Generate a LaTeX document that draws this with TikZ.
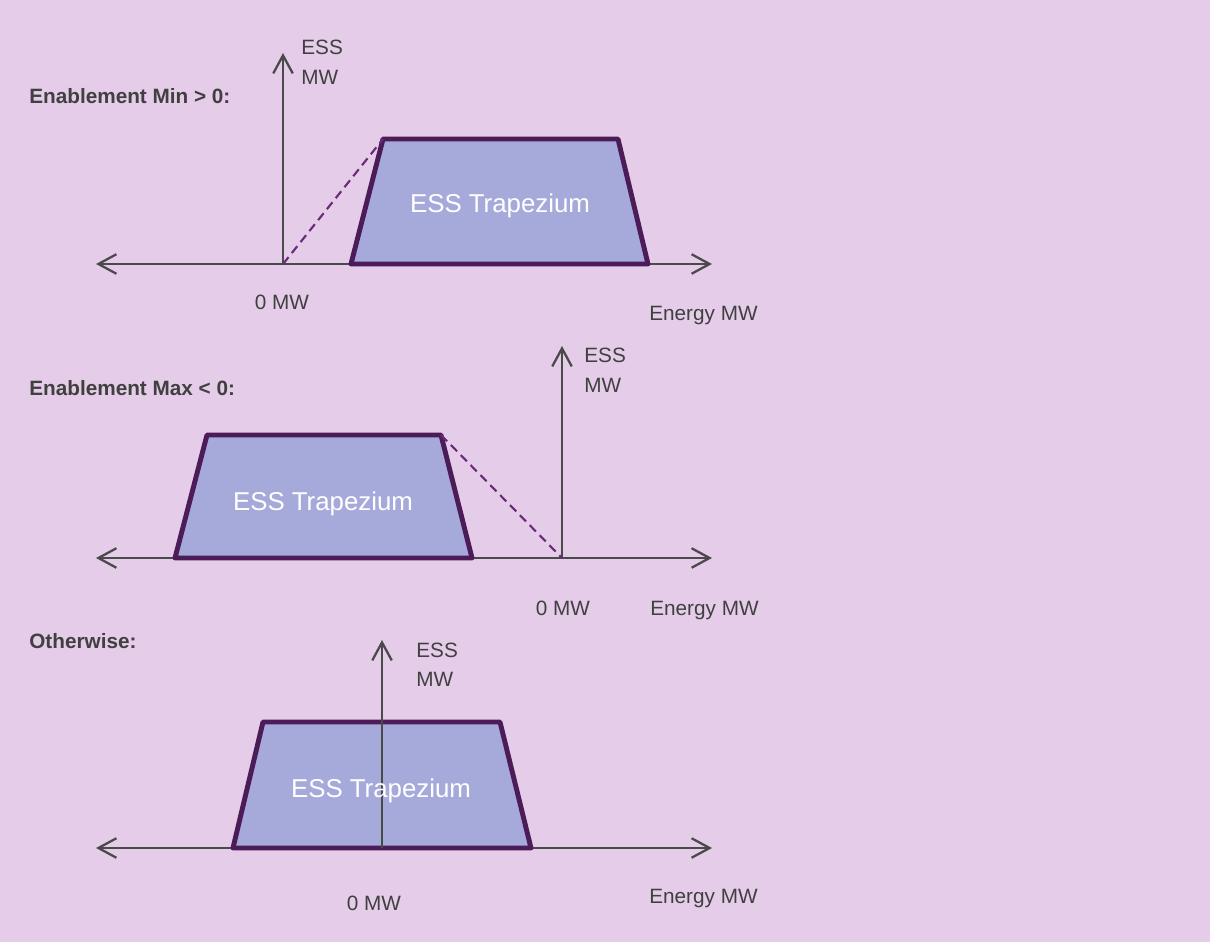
\documentclass[tikz,border=0pt]{standalone}
\usepackage{fontspec}
\setmainfont{Liberation Sans}
\usepackage{tikz}
\usetikzlibrary{arrows.meta,positioning}

\definecolor{bgcol}{HTML}{E5CCE8}
\definecolor{trapfill}{HTML}{A6AADB}
\definecolor{trapline}{HTML}{4B1C57}
\definecolor{hintcol}{HTML}{6A2A7A}
\definecolor{axisgray}{HTML}{4A4A4A}
\definecolor{txtgray}{HTML}{404040}

\begin{document}
\begin{tikzpicture}[x=0.02cm, y=-0.02cm,
  head/.tip={Straight Barb[length=3.6mm,width=3.9mm]},
  axis/.style={draw=axisgray, line width=1.3pt, {head}-{head}},
  upaxis/.style={draw=axisgray, line width=1.3pt, -{head}},
  trap/.style={fill=trapfill, draw=trapline, line width=2.8pt, line join=round},
  hint/.style={draw=hintcol, line width=1.2pt, dash pattern=on 5pt off 3pt},
  lbl/.style={text=txtgray, font=\fontsize{11.8}{14}\selectfont, anchor=base west, inner sep=0pt},
  title/.style={lbl, font=\fontsize{11.8}{14}\selectfont\bfseries},
  inlbl/.style={text=white, font=\fontsize{14.7}{17}\selectfont, anchor=base, inner sep=0pt}]

% Background and margins
\fill[bgcol] (0,0) rectangle (1210,942);
\useasboundingbox (0,0) rectangle (1210,942);

% ---------- Enablement Min > 0 ----------
\coordinate (oA) at (283,264);
\coordinate (lA) at (96,264);
\coordinate (rA) at (712,264);
\coordinate (tA) at (283,53);
\draw[axis] (lA) -- (rA);
\draw[trap] (351,264) -- (383,139) coordinate (cA) -- (618,139) -- (648,264) -- cycle;
\draw[upaxis] (oA) -- (tA);
\draw[hint] (oA) -- (cA);
\node[inlbl] (trapA) at (500,213) {ESS Trapezium};
\node[title] (headA) at (29,104) {Enablement Min > 0:};
\node[lbl] (essA) at (301,55) {ESS};
\node[lbl] (mwA) at (301,85) {MW};
\node[lbl, anchor=base] (zeroA) at (282,310) {0 MW};
\node[lbl] (enA) at (649,321) {Energy MW};

% ---------- Enablement Max < 0 ----------
\coordinate (oB) at (562,558);
\coordinate (lB) at (96,558);
\coordinate (rB) at (712,558);
\coordinate (tB) at (562,346);
\draw[axis] (lB) -- (rB);
\draw[trap] (175,558) -- (207,435) -- (441,435) coordinate (cB) -- (472,558) -- cycle;
\draw[upaxis] (oB) -- (tB);
\draw[hint] (cB) -- (oB);
\node[inlbl] (trapB) at (323,510) {ESS Trapezium};
\node[title] (headB) at (29,396) {Enablement Max < 0:};
\node[lbl] (essB) at (584,363) {ESS};
\node[lbl] (mwB) at (584,393) {MW};
\node[lbl, anchor=base] (zeroB) at (563,615) {0 MW};
\node[lbl] (enB) at (650,615) {Energy MW};

% ---------- Otherwise ----------
\coordinate (oC) at (382,848);
\coordinate (lC) at (96,848);
\coordinate (rC) at (712,848);
\coordinate (tC) at (382,640);
\draw[axis] (lC) -- (rC);
\draw[trap] (233,848) -- (263,722) -- (500,722) -- (531,848) -- cycle;
\draw[upaxis] (oC) -- (tC);
\node[inlbl] (trapC) at (381,797) {ESS Trapezium};
\node[title] (headC) at (29,648) {Otherwise:};
\node[lbl] (essC) at (416,657) {ESS};
\node[lbl] (mwC) at (416,686) {MW};
\node[lbl, anchor=base] (zeroC) at (374,910) {0 MW};
\node[lbl] (enC) at (649,903) {Energy MW};
\end{tikzpicture}
\end{document}
